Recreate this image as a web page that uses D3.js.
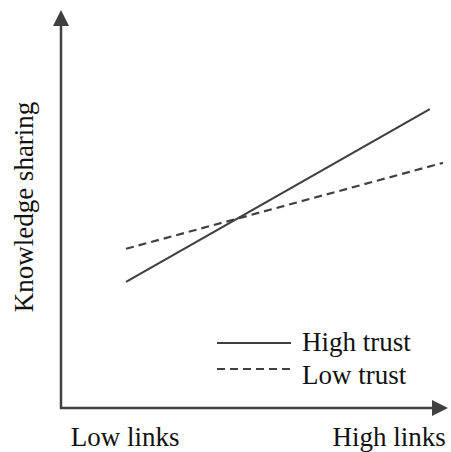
<!DOCTYPE html>
<html>
  <head>
    <meta charset="utf-8">
    <title>Knowledge sharing interaction</title>
    <script src="https://d3js.org/d3.v7.min.js"></script>
    <style>
      body { margin: 0; background: #fff; }
      svg { display: block; }
      text { font-family: 'Liberation Serif', 'Times New Roman', serif; fill: #111; }
    </style>
  </head>
  <body>
    <div id="chart"></div>
    <script>
    // data
    var categories = ["Low links", "High links"];
    var categoryPos = [1.66, 8.48];
    var seriesNames = ["High trust", "Low trust"];
    var highTrust = [[1.68, 3.17], [9.53, 7.51]];
    var lowTrust = [[1.68, 4.0], [9.87, 6.16]];

    var width = 451, height = 452;
    var ink = "#404040";

    var svg = d3.select("#chart").append("svg")
        .attr("width", width).attr("height", height);

    var xScale = d3.scaleLinear().domain([0, 10]).range([61, 448]);
    var yScale = d3.scaleLinear().domain([0, 10]).range([408, 10]);

    // axes with arrows
    var x0 = xScale(0), y0 = yScale(0), xMax = xScale(10), yMax = yScale(10);
    svg.append("path")
        .attr("d", `M${x0},${yMax + 14}V${y0}H${xMax - 14}`)
        .attr("fill", "none")
        .attr("stroke", ink)
        .attr("stroke-width", 2.5);
    svg.append("path")
        .attr("d", `M${x0},${yMax}L${x0 - 8},${yMax + 16}L${x0 + 8},${yMax + 16}Z`)
        .attr("fill", ink);
    svg.append("path")
        .attr("d", `M${xMax},${y0}L${xMax - 16},${y0 - 8}L${xMax - 16},${y0 + 8}Z`)
        .attr("fill", ink);

    // category labels
    svg.selectAll("text.cat")
        .data(categories)
        .enter().append("text")
        .attr("class", "cat")
        .attr("x", (d, i) => xScale(categoryPos[i]))
        .attr("y", 446)
        .attr("text-anchor", "middle")
        .style("font-size", "27px")
        .text(d => d);

    // y label
    svg.append("text")
        .attr("transform", `translate(33,${(yScale(0) + yScale(10)) / 2 - 2}) rotate(-90)`)
        .attr("text-anchor", "middle")
        .style("font-size", "27px")
        .text("Knowledge sharing");

    // lines
    var line = d3.line().x(d => xScale(d[0])).y(d => yScale(d[1]));
    var series = [
        {name: seriesNames[0], values: highTrust, dash: null},
        {name: seriesNames[1], values: lowTrust, dash: "8,5"}
    ];

    svg.selectAll("path.series")
        .data(series)
        .enter().append("path")
        .attr("class", "series")
        .attr("d", d => line(d.values))
        .attr("fill", "none")
        .attr("stroke", ink)
        .attr("stroke-width", 2.2)
        .attr("stroke-dasharray", d => d.dash);

    // legend
    var legend = svg.append("g").attr("transform", "translate(217,343)");
    legend.selectAll("line")
        .data(series)
        .enter().append("line")
        .attr("x1", 0).attr("x2", 74)
        .attr("y1", (d, i) => i * 26).attr("y2", (d, i) => i * 26)
        .attr("stroke", ink)
        .attr("stroke-width", 2.2)
        .attr("stroke-dasharray", d => d.dash);
    legend.selectAll("text")
        .data(series)
        .enter().append("text")
        .attr("x", 85)
        .attr("y", (d, i) => 8 + i * 33)
        .style("font-size", "27px")
        .text(d => d.name);
    </script>
  </body>
</html>
